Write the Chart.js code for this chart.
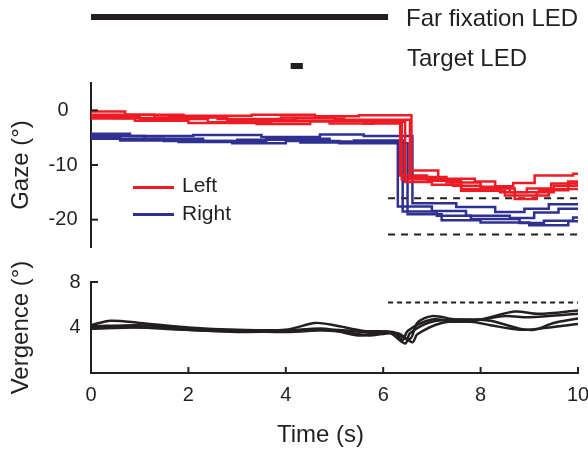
<!DOCTYPE html>
<html>
<head>
<meta charset="utf-8">
<script src="https://cdn.jsdelivr.net/npm/chart.js@4.4.1/dist/chart.umd.min.js"></script>
<style>
  html, body { margin: 0; padding: 0; background: #fff; }
  #wrap { position: relative; width: 588px; height: 449px; overflow: hidden; background: #fff;
          font-family: "Liberation Sans", Arial, sans-serif; color: #231F20; }
  canvas { position: absolute; left: 0; }
  .txt { position: absolute; white-space: nowrap; line-height: 1; }
  .sw { position: absolute; height: 3px; }
</style>
</head>
<body>
<div id="wrap">
  <canvas id="led" width="588" height="80" style="top:0px"></canvas>
  <canvas id="gaze" width="588" height="175" style="top:80px"></canvas>
  <canvas id="verg" width="588" height="194" style="top:255px"></canvas>
  <div class="txt" style="left:406px;top:6px;font-size:24px">Far fixation LED</div>
  <div class="txt" style="left:407px;top:46px;font-size:24px">Target LED</div>
  <div class="sw" style="left:133px;top:186px;width:41px;background:#ED1C24"></div>
  <div class="sw" style="left:133px;top:213px;width:41px;background:#2E3192"></div>
  <div class="txt" style="left:182px;top:174px;font-size:21px">Left</div>
  <div class="txt" style="left:182px;top:202px;font-size:21px">Right</div>
  <div class="txt" style="left:277px;top:422px;font-size:24px">Time (s)</div>
</div>
<script>
// ---------------- data ----------------
const farLedOn = [0, 6.1];          // s
const targetLedOn = [4.1, 4.35];    // s

const gazeTicks = [-20, -10, 0];
const vergTicks = [4, 8];

// Left eye gaze traces [time (s), gaze (deg)] (value starts at that time)
const left1 = [[0,-0.2],[0.7,-0.8],[1.9,-1.0],[3.3,-0.8],[4.6,-1.1],[5.5,-0.9],[6.58,-11.0],[7.13,-12.5],[7.88,-13.0],[8.3,-13.9],[8.67,-13.3],[9.11,-11.9],[9.9,-11.6],[10,-11.6]];
const left2 = [[0,-1.0],[0.5,-1.4],[1.6,-1.2],[2.8,-1.7],[4.2,-1.5],[5.2,-1.9],[6.38,-12.6],[7.43,-13.8],[8.0,-14.3],[8.7,-16.2],[9.15,-15.0],[9.5,-13.8],[10,-13.8]];
const left3 = [[0,-1.2],[1.0,-1.6],[2.4,-2.2],[3.7,-2.0],[4.9,-2.4],[5.8,-2.1],[6.45,-13.1],[7.0,-13.6],[7.6,-14.4],[8.4,-15.0],[8.95,-14.3],[9.45,-13.4],[10,-13.4]];
const left4 = [[0,-0.8],[1.3,-1.3],[2.6,-1.6],[3.9,-1.3],[5.0,-1.7],[6.55,-12.2],[7.3,-13.2],[8.0,-14.0],[8.6,-15.0],[9.2,-14.6],[9.8,-13.0],[10,-13.0]];
const left5 = [[0,-1.5],[0.9,-1.9],[2.0,-2.3],[3.4,-2.5],[4.5,-2.0],[5.6,-2.4],[6.35,-11.9],[6.9,-12.9],[7.6,-14.7],[8.5,-15.6],[9.4,-14.4],[10,-14.4]];

// Right eye gaze traces
const right1 = [[0,-4.3],[0.8,-4.7],[2.1,-4.5],[3.5,-4.9],[4.7,-4.4],[5.6,-4.7],[6.6,-17.0],[7.5,-17.7],[8.3,-18.6],[8.9,-18.0],[9.4,-17.2],[10,-17.0]];
const right2 = [[0,-4.7],[1.1,-5.2],[2.3,-5.6],[3.6,-5.2],[4.9,-5.7],[6.3,-17.6],[7.0,-18.4],[7.7,-19.3],[8.6,-19.7],[9.1,-18.7],[9.6,-18.0],[10,-18.0]];
const right3 = [[0,-5.0],[0.6,-5.5],[1.8,-5.8],[3.0,-5.4],[4.3,-5.9],[5.4,-5.5],[6.4,-18.5],[7.1,-19.3],[7.8,-19.9],[8.8,-20.6],[9.3,-20.2],[9.9,-19.6],[10,-19.6]];
const right4 = [[0,-5.2],[1.5,-5.6],[2.9,-6.0],[4.0,-5.6],[5.1,-6.0],[6.5,-19.0],[7.2,-20.1],[8.0,-20.5],[9.0,-21.0],[9.8,-20.3],[10,-20.3]];

// Target gaze positions (dashed) after far LED off
const targetTime = [6.1, 10];
const targetLeft = -16.1;
const targetRight = -22.7;
const targetVergence = 6.2;

// Vergence traces [time (s), vergence (deg)]
const verg1 = [[0,4.2],[0.4,4.6],[1,4.4],[2,4.0],[3,3.8],[4,3.8],[4.6,4.4],[5,4.2],[5.6,3.7],[6.2,3.6],[6.4,2.9],[6.5,3.7],[7.0,4.7],[7.5,4.5],[8,4.7],[8.7,5.4],[9.2,5.2],[10,5.5]];
const verg2 = [[0,4.0],[0.5,4.1],[1.5,3.9],[2.5,3.7],[3.5,3.7],[4.5,3.8],[5.2,3.6],[5.7,3.3],[6.2,3.5],[6.55,3.0],[6.7,4.4],[7,5.0],[7.5,4.7],[8,4.7],[8.5,5.0],[9,4.9],[10,5.2]];
const verg3 = [[0,3.9],[1,4.0],[2,3.8],[3,3.6],[4,3.7],[4.8,3.9],[5.5,3.3],[6.1,3.6],[6.45,2.6],[6.55,3.5],[7.0,4.5],[7.6,4.7],[8.2,4.6],[8.8,3.9],[9.1,3.8],[9.5,4.4],[10,4.8]];
const verg4 = [[0,4.1],[1,4.2],[2,3.9],[3,3.7],[4,3.6],[5,3.8],[5.8,3.5],[6.3,3.5],[6.6,2.7],[6.7,3.4],[7.2,4.4],[7.8,4.5],[8.2,4.2],[8.8,3.8],[9.2,3.9],[10,4.3]];

// ---------------- styling ----------------
const INK = '#231F20';
const RED = '#ED1C24';
const BLUE = '#2E3192';
const FONT = '"Liberation Sans", Arial, sans-serif';
const AXIS_LEFT = 91;

const pts = arr => arr.map(p => ({x: p[0], y: p[1]}));
const flat = (t, v) => t.map(x => ({x, y: v}));

const inwardTicks = {
  id: 'inwardTicks',
  afterDraw(chart, args, opts) {
    const ctx = chart.ctx, a = chart.chartArea;
    ctx.save();
    ctx.strokeStyle = INK; ctx.lineWidth = 2;
    (opts.axes || []).forEach(id => {
      const s = chart.scales[id];
      s.ticks.forEach(t => {
        const p = s.getPixelForValue(t.value);
        ctx.beginPath();
        if (s.isHorizontal()) { ctx.moveTo(p, a.bottom); ctx.lineTo(p, a.bottom - 6); }
        else { ctx.moveTo(a.left, p); ctx.lineTo(a.left + 7, p); }
        ctx.stroke();
      });
    });
    ctx.restore();
  }
};
Chart.register(inwardTicks);

const base = {
  responsive: false,
  animation: false,
  devicePixelRatio: 1,
  events: [],
  elements: { point: { radius: 0 } },
};

function fixY(width) {
  return s => { s.width = width; s.paddingTop = 0; s.paddingBottom = 0; s.paddingLeft = 0; s.paddingRight = 0; };
}

// ---------------- LED chart ----------------
new Chart(document.getElementById('led'), {
  type: 'line',
  data: { datasets: [
    { data: flat(farLedOn, 1), borderColor: INK, borderWidth: 6, borderCapStyle: 'butt', clip: false },
    { data: flat(targetLedOn, 0), borderColor: INK, borderWidth: 6, borderCapStyle: 'butt', clip: false }
  ]},
  options: Object.assign({}, base, {
    layout: { padding: { left: AXIS_LEFT, right: 10, top: 17, bottom: 14 } },
    plugins: { legend: { display: false }, tooltip: { enabled: false }, inwardTicks: { axes: [] } },
    scales: {
      x: { type: 'linear', min: 0, max: 10, display: false },
      y: { type: 'linear', min: 0, max: 1, display: false }
    }
  })
});

// ---------------- Gaze chart ----------------
const gazeSets = [];
[left1, left2, left3, left4, left5].forEach(a => gazeSets.push({ data: pts(a), borderColor: RED, borderWidth: 2.5, stepped: 'before' }));
[right1, right2, right3, right4].forEach(a => gazeSets.push({ data: pts(a), borderColor: BLUE, borderWidth: 2.5, stepped: 'before' }));
gazeSets.push({ data: flat(targetTime, targetLeft), borderColor: INK, borderWidth: 2, borderDash: [7, 6] });
gazeSets.push({ data: flat(targetTime, targetRight), borderColor: INK, borderWidth: 2, borderDash: [7, 6] });

new Chart(document.getElementById('gaze'), {
  type: 'line',
  data: { datasets: gazeSets },
  options: Object.assign({}, base, {
    layout: { padding: { left: 0, right: 10, top: 3, bottom: 8 } },
    plugins: { legend: { display: false }, tooltip: { enabled: false }, inwardTicks: { axes: ['y'] } },
    scales: {
      x: { type: 'linear', min: 0, max: 10, display: false },
      y: {
        type: 'linear', min: -25, max: 5,
        afterBuildTicks: s => { s.ticks = gazeTicks.map(v => ({ value: v })); },
        afterFit: fixY(AXIS_LEFT),
        grid: { display: false, drawTicks: false },
        border: { display: true, color: INK, width: 2 },
        ticks: { color: INK, font: { family: FONT, size: 20 }, padding: 13.5, crossAlign: 'center' },
        title: { display: true, text: 'Gaze (°)', color: INK, font: { family: FONT, size: 24 }, padding: { top: 7, bottom: 0 } }
      }
    }
  })
});

// ---------------- Vergence chart ----------------
const vergSets = [verg1, verg2, verg3, verg4].map(a => ({ data: pts(a), borderColor: INK, borderWidth: 2.5, tension: 0.3 }));
vergSets.push({ data: flat(targetTime, targetVergence), borderColor: INK, borderWidth: 2, borderDash: [5, 4] });

new Chart(document.getElementById('verg'), {
  type: 'line',
  data: { datasets: vergSets },
  options: Object.assign({}, base, {
    layout: { padding: { left: 0, right: 10, top: 27, bottom: 0 } },
    plugins: { legend: { display: false }, tooltip: { enabled: false }, inwardTicks: { axes: ['x', 'y'] } },
    scales: {
      x: {
        type: 'linear', min: 0, max: 10,
        ticks: { stepSize: 2, color: INK, font: { family: FONT, size: 20 }, padding: 10, maxRotation: 0 },
        afterFit: s => { s.height = 76; s.paddingLeft = 0; s.paddingRight = 0; s.paddingTop = 0; s.paddingBottom = 0; },
        grid: { display: false, drawTicks: false },
        border: { display: true, color: INK, width: 2 }
      },
      y: {
        type: 'linear', min: 0, max: 8,
        afterBuildTicks: s => { s.ticks = vergTicks.map(v => ({ value: v })); },
        afterFit: fixY(AXIS_LEFT),
        grid: { display: false, drawTicks: false },
        border: { display: true, color: INK, width: 2 },
        ticks: { color: INK, font: { family: FONT, size: 20 }, padding: 10.5, crossAlign: 'center' },
        title: { display: true, text: 'Vergence (°)', color: INK, font: { family: FONT, size: 24 }, padding: { top: 7, bottom: 0 } }
      }
    }
  })
});
</script>
</body>
</html>
